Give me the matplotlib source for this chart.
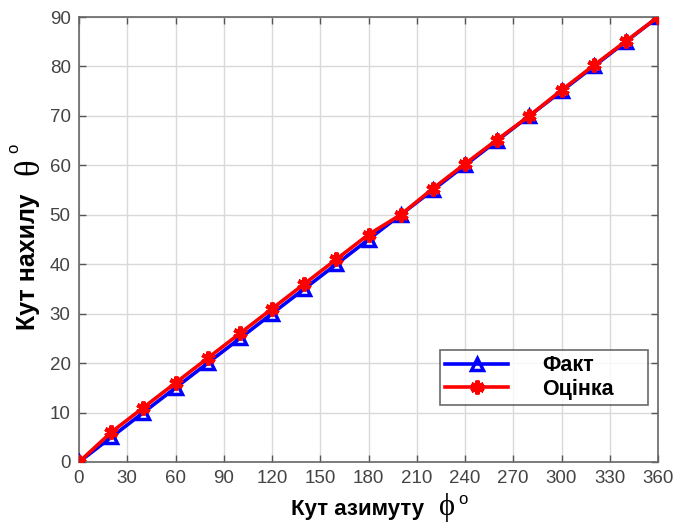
import numpy as np
import matplotlib.pyplot as plt

# кут азимуту, градуси
phi = [0, 20, 40, 60, 80, 100, 120, 140, 160, 180, 200, 220, 240, 260, 280, 300, 320, 340, 360]
# фактичний кут нахилу
theta_fact = [0, 5, 10, 15, 20, 25, 30, 35, 40, 45, 50, 55, 60, 65, 70, 75, 80, 85, 90]
# оцінка кута нахилу
theta_est = [0, 6, 11, 16, 21, 26, 31, 36, 41, 46, 50, 55.3, 60.3, 65.2, 70, 75.2, 80.2, 85.1, 90]

xticks = np.arange(0, 361, 30)
yticks = np.arange(0, 91, 10)

plt.rcParams['font.family'] = ['Liberation Sans', 'DejaVu Sans']

W, H = 675, 526
fig = plt.figure(figsize=(W / 100, H / 100), dpi=100)
ax = fig.add_axes([79 / W, 64 / H, 579 / W, 445 / H])

ax.plot(phi, theta_fact, color='blue', lw=2.6, marker='^', ms=8,
        mfc='none', mec='blue', mew=2.5, label='Факт', zorder=3)
ax.plot(phi, theta_est, color='red', lw=2.6, marker=(6, 2, 0), ms=10,
        mec='red', mew=3, label='Оцінка', zorder=4)

ax.set_xlim(0, 360)
ax.set_ylim(0, 90)
ax.set_xticks(xticks)
ax.set_yticks(yticks)
ax.grid(True, color='#d9d9d9', lw=1)
ax.set_axisbelow(True)
ax.tick_params(direction='in', top=True, right=True, length=5, width=1,
               colors='#555555', labelcolor='#444444', labelsize=13.5, pad=6)
for s in ax.spines.values():
    s.set_color('#666666')
    s.set_linewidth(1.2)

# підписи осей: текст жирним, грецька літера окремо
fig.text(358 / W, 1 - 515 / H, 'Кут азимуту', fontsize=16, fontweight='bold',
         ha='center', va='baseline')
fig.text(447 / W, 1 - 515 / H, 'ϕ', family='Liberation Serif', fontsize=22,
         ha='center', va='baseline')
fig.text(463 / W, 1 - 500 / H, 'o', fontsize=12, ha='center', va='center')

fig.text(28 / W, 1 - 262 / H, 'Кут нахилу', fontsize=18, fontweight='bold',
         ha='center', va='center', rotation=90)
fig.text(30 / W, 1 - 167 / H, 'θ', family='Liberation Serif', fontsize=25,
         ha='center', va='center', rotation=90)
fig.text(14 / W, 1 - 148 / H, 'o', fontsize=12, ha='center', va='center', rotation=90)

leg = ax.legend(loc='lower left', bbox_to_anchor=(0.6235, 0.128, 0.359, 0.119),
                mode='expand', borderaxespad=0,
                prop={'weight': 'bold', 'size': 15.5}, frameon=True, fancybox=False,
                edgecolor='#444444', handlelength=2.9, handletextpad=1.6,
                borderpad=0.25, labelspacing=0.1)
leg.get_frame().set_linewidth(1.2)

fig.savefig('out.png', dpi=100)
